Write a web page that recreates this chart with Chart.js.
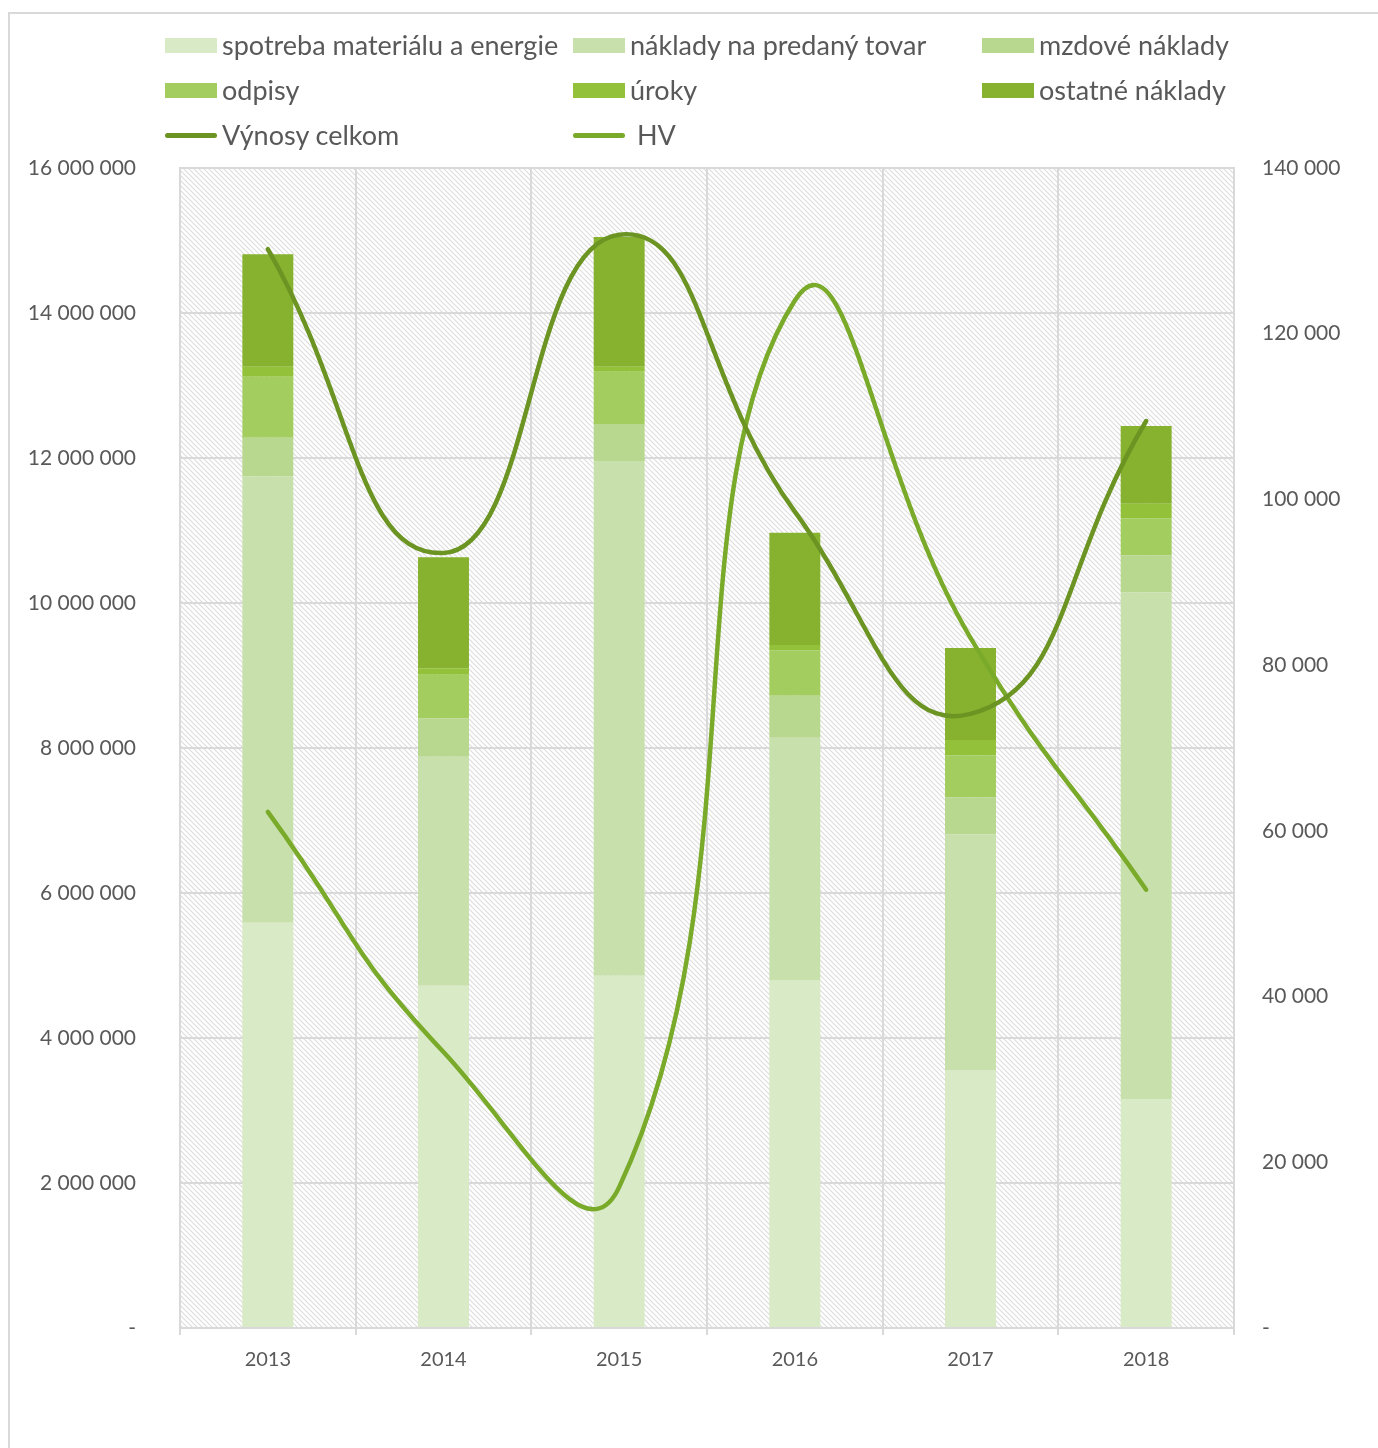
<!DOCTYPE html>
<html>
<head>
<meta charset="utf-8">
<script src="https://cdn.jsdelivr.net/npm/chart.js@4"></script>
<style>
    body { margin: 0; background: #fff; }
    #wrap { position: relative; width: 1378px; height: 1448px; overflow: hidden; }
    #frame { position: absolute; left: 8px; top: 12px; width: 1400px; height: 1500px; border: 2px solid #d9d9d9; box-sizing: border-box; }
    canvas { position: absolute; left: 0; top: 0; }
    .lg { position: absolute; font-family: Lato, sans-serif; font-size: 27px; color: #595959; white-space: nowrap; line-height: 30px; }
    .lg span.box { position: absolute; left: -57px; top: 8px; width: 52px; height: 15px; }
    .lg span.ln { position: absolute; left: -57px; top: 13px; width: 52px; height: 5px; border-radius: 3px; }
</style>
</head>
<body>
<div id="wrap">
    <div id="frame"></div>
    <canvas id="chartCanvas" width="1378" height="1448"></canvas>
    <div id="legend"></div>
</div>
<script>
    // data
    const years = ['2013', '2014', '2015', '2016', '2017', '2018'];
    const spotreba = [5590000, 4720000, 4860000, 4800000, 3560000, 3160000];
    const nakladyTovar = [6160000, 3160000, 7100000, 3340000, 3250000, 6990000];
    const mzdove = [530000, 530000, 510000, 580000, 510000, 510000];
    const odpisy = [840000, 600000, 720000, 630000, 580000, 510000];
    const uroky = [140000, 90000, 70000, 70000, 210000, 200000];
    const ostatne = [1550000, 1530000, 1790000, 1550000, 1270000, 1070000];
    const vynosy = [14880000, 10690000, 15080000, 11260000, 8470000, 12510000];
    const hv = [62300, 33300, 17000, 124000, 83300, 52900];

    const leftTicks = [0, 2000000, 4000000, 6000000, 8000000, 10000000, 12000000, 14000000, 16000000];
    const rightTicks = [0, 20000, 40000, 60000, 80000, 100000, 120000, 140000];

    const txt = '#595959';
    const gridCol = '#d9d9d9';
    const font = 'Lato, sans-serif';

    function fmt(v) {
        if (v === 0) return '-';
        return String(v).replace(/\B(?=(\d{3})+(?!\d))/g, ' ');
    }

    const barSeries = [
        { label: 'spotreba materiálu a energie', data: spotreba, color: '#d9eac6' },
        { label: 'náklady na predaný tovar', data: nakladyTovar, color: '#c8e0ab' },
        { label: 'mzdové náklady', data: mzdove, color: '#b8d78f' },
        { label: 'odpisy', data: odpisy, color: '#a3cd5f' },
        { label: 'úroky', data: uroky, color: '#93c13a' },
        { label: 'ostatné náklady', data: ostatne, color: '#87b22f' }
    ];
    const lineSeries = [
        { label: 'Výnosy celkom', data: vynosy, color: '#6b9423', axis: 'y' },
        { label: 'HV', data: hv, color: '#7aaa2a', axis: 'y1' }
    ];

    // hatch background of the plot area
    function makeHatch() {
        const c = document.createElement('canvas');
        c.width = 5; c.height = 5;
        const g = c.getContext('2d');
        g.strokeStyle = '#dddddd';
        g.lineWidth = 1.2;
        g.beginPath();
        g.moveTo(-1, -1); g.lineTo(6, 6);
        g.moveTo(-1, 4); g.lineTo(1, 6);
        g.moveTo(4, -1); g.lineTo(6, 1);
        g.stroke();
        return c;
    }

    const hatchPlugin = {
        id: 'hatch',
        beforeDraw(chart) {
            const a = chart.chartArea;
            const ctx = chart.ctx;
            ctx.save();
            ctx.fillStyle = ctx.createPattern(makeHatch(), 'repeat');
            ctx.fillRect(a.left, a.top, a.right - a.left, a.bottom - a.top);
            ctx.restore();
        }
    };

    const datasets = [];
    barSeries.forEach(s => datasets.push({
        type: 'bar', label: s.label, data: s.data, backgroundColor: s.color,
        stack: 's', yAxisID: 'y', order: 2,
        barPercentage: 0.29, categoryPercentage: 1
    }));
    lineSeries.forEach(s => datasets.push({
        type: 'line', label: s.label, data: s.data, borderColor: s.color,
        borderWidth: 4.5, pointRadius: 0, tension: 0.5, borderCapStyle: 'round',
        yAxisID: s.axis, order: 0
    }));

    new Chart(document.getElementById('chartCanvas'), {
        data: { labels: years, datasets: datasets },
        plugins: [hatchPlugin],
        options: {
            responsive: false,
            animation: false,
            layout: { padding: { top: 168, left: 0, right: 0, bottom: 0 } },
            plugins: { legend: { display: false }, tooltip: { enabled: false } },
            scales: {
                x: {
                    stacked: true,
                    afterFit: s => { s.height = 120; },
                    grid: { color: gridCol, lineWidth: 2, offset: true, tickLength: 7 },
                    border: { color: gridCol, width: 2 },
                    ticks: { color: txt, font: { family: font, size: 20 }, padding: 13 }
                },
                y: {
                    stacked: true, position: 'left', min: 0, max: 16000000,
                    afterFit: s => { s.width = 180; },
                    afterBuildTicks: s => { s.ticks = leftTicks.map(v => ({ value: v })); },
                    grid: { color: gridCol, lineWidth: 2, drawTicks: false },
                    border: { color: gridCol, width: 2 },
                    ticks: { color: txt, font: { family: font, size: 21 }, padding: 44, callback: v => fmt(v) }
                },
                y1: {
                    position: 'right', min: 0, max: 140000,
                    afterFit: s => { s.width = 144; },
                    afterBuildTicks: s => { s.ticks = rightTicks.map(v => ({ value: v })); },
                    grid: { display: false },
                    border: { color: gridCol, width: 2 },
                    ticks: { color: txt, font: { family: font, size: 21 }, padding: 20, callback: v => fmt(v) }
                }
            }
        }
    });

    // legend laid out in three columns like the original
    const cols = [222, 630, 1039];
    const rows = [30, 75, 120];
    const items = barSeries.map(s => ({ label: s.label, color: s.color, kind: 'box' }))
        .concat(lineSeries.map(s => ({ label: s.label, color: s.color, kind: 'ln' })));
    const lg = document.getElementById('legend');
    items.forEach((it, i) => {
        const d = document.createElement('div');
        d.className = 'lg';
        d.style.left = cols[i % 3] + 'px';
        d.style.top = rows[Math.floor(i / 3)] + 'px';
        const m = document.createElement('span');
        m.className = it.kind === 'box' ? 'box' : 'ln';
        m.style.background = it.color;
        d.appendChild(m);
        d.appendChild(document.createTextNode(it.label === 'HV' ? '\u00a0HV' : it.label));
        lg.appendChild(d);
    });
</script>
</body>
</html>
